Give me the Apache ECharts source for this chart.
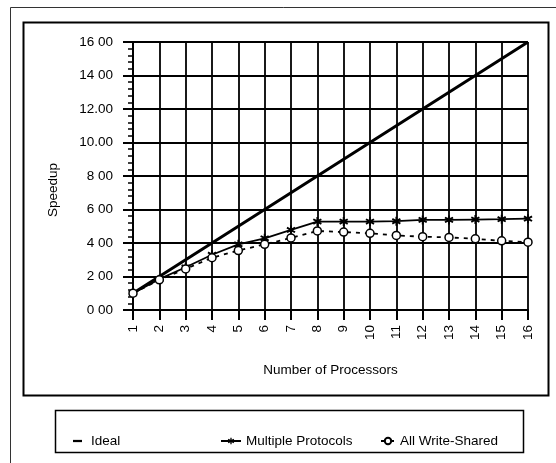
<!DOCTYPE html>
<html><head><meta charset="utf-8">
<script src="https://cdn.jsdelivr.net/npm/echarts@6/dist/echarts.min.js"></script>
<style>html,body{margin:0;padding:0;background:#fff}#c{width:556px;height:463px}</style>
</head><body><div id="c"></div>
<script>
const categories = ['1','2','3','4','5','6','7','8','9','10','11','12','13','14','15','16'];
const ideal = [1,2,3,4,5,6,7,8,9,10,11,12,13,14,15,16];
const multipleProtocols = [1.0,1.84,2.55,3.3,3.92,4.28,4.78,5.28,5.28,5.28,5.3,5.38,5.38,5.4,5.42,5.45];
const allWriteShared = [1.0,1.8,2.45,3.12,3.55,3.92,4.3,4.72,4.65,4.58,4.45,4.38,4.33,4.25,4.13,4.05];
const yTickLabels = {0:'0 00',2:'2 00',4:'4 00',6:'6 00',8:'8 00',10:'10.00',12:'12.00',14:'14 00',16:'16 00'};

const F = 'Liberation Sans, Arial, sans-serif';
const asterisk = 'path://M4,0 L6,0 L6,3 L9,1.5 L10,3.3 L7,5 L10,6.7 L9,8.5 L6,7 L6,10 L4,10 L4,7 L1,8.5 L0,6.7 L3,5 L0,3.3 L1,1.5 L4,3 Z';
const lt = {fontFamily:F,fontSize:13.5,color:'#000'};

const chart = echarts.init(document.getElementById('c'), null, {renderer:'canvas'});
chart.setOption({
  backgroundColor:'#fff',
  animation:false,
  graphic:[
    {type:'polyline', shape:{points:[[10.5,463],[10.5,7.5],[556,7.5]]}, style:{stroke:'#333', lineWidth:1, fill:null}},
    {type:'rect', shape:{x:23.5,y:22.5,width:525,height:373}, style:{stroke:'#000', lineWidth:2, fill:null}},
    {type:'rect', shape:{x:55.5,y:410.5,width:468,height:42}, style:{stroke:'#000', lineWidth:1.5, fill:null}},
    {type:'text', x:53, y:190, rotation:Math.PI/2, style:{text:'Speedup', fontFamily:F, fontSize:13.5, fill:'#000', align:'center', verticalAlign:'middle'}}
  ],
  legend:[
    {data:[{name:'Ideal', icon:'path://M0,0 L10,0 L10,2.5 L0,2.5 Z'}], left:68, top:429, itemWidth:9, itemHeight:3, itemGap:0, textStyle:Object.assign({padding:[0,0,0,4]},lt)},
    {data:['Multiple Protocols'], left:215, top:429, itemWidth:20, itemHeight:8, textStyle:lt},
    {data:['All Write-Shared'], left:375, top:429, itemWidth:14, itemHeight:8, textStyle:lt}
  ],
  grid:{left:133, right:28, top:42, bottom:153},
  xAxis:{
    type:'category', data:categories, boundaryGap:false,
    name:'Number of Processors', nameLocation:'middle', nameGap:53,
    nameTextStyle:{fontFamily:F,fontSize:13.5,color:'#000'},
    axisLine:{lineStyle:{color:'#000',width:2}},
    axisTick:{show:true,length:10,lineStyle:{color:'#000',width:2}},
    axisLabel:{rotate:90, fontFamily:F, fontSize:13.5, color:'#000', margin:15},
    splitLine:{show:true, lineStyle:{color:'#000', width:1.8}}
  },
  yAxis:{
    type:'value', min:0, max:16, interval:2,
    axisLine:{show:true,lineStyle:{color:'#000',width:2}},
    axisTick:{show:true,length:10,lineStyle:{color:'#000',width:2}},
    minorTick:{show:true,splitNumber:5,length:5,lineStyle:{color:'#000',width:1.5}},
    axisLabel:{fontFamily:F, fontSize:13.5, color:'#000', margin:20, formatter:v=>yTickLabels[v]},
    splitLine:{show:true, lineStyle:{color:'#000', width:1.8}}
  },
  series:[
    {name:'Ideal', type:'line', data:ideal, symbol:'none', lineStyle:{color:'#000',width:3}, itemStyle:{color:'#000'}, z:3},
    {name:'Multiple Protocols', type:'line', data:multipleProtocols, symbol:asterisk, symbolSize:9,
      lineStyle:{color:'#000',width:1.8}, itemStyle:{color:'#000'}, z:4},
    {name:'All Write-Shared', type:'line', data:allWriteShared, symbol:'circle', symbolSize:8,
      lineStyle:{color:'#000',width:1.8,type:[4,5]}, itemStyle:{color:'#fff',borderColor:'#000',borderWidth:1.5}, z:5}
  ]
});
</script></body></html>
